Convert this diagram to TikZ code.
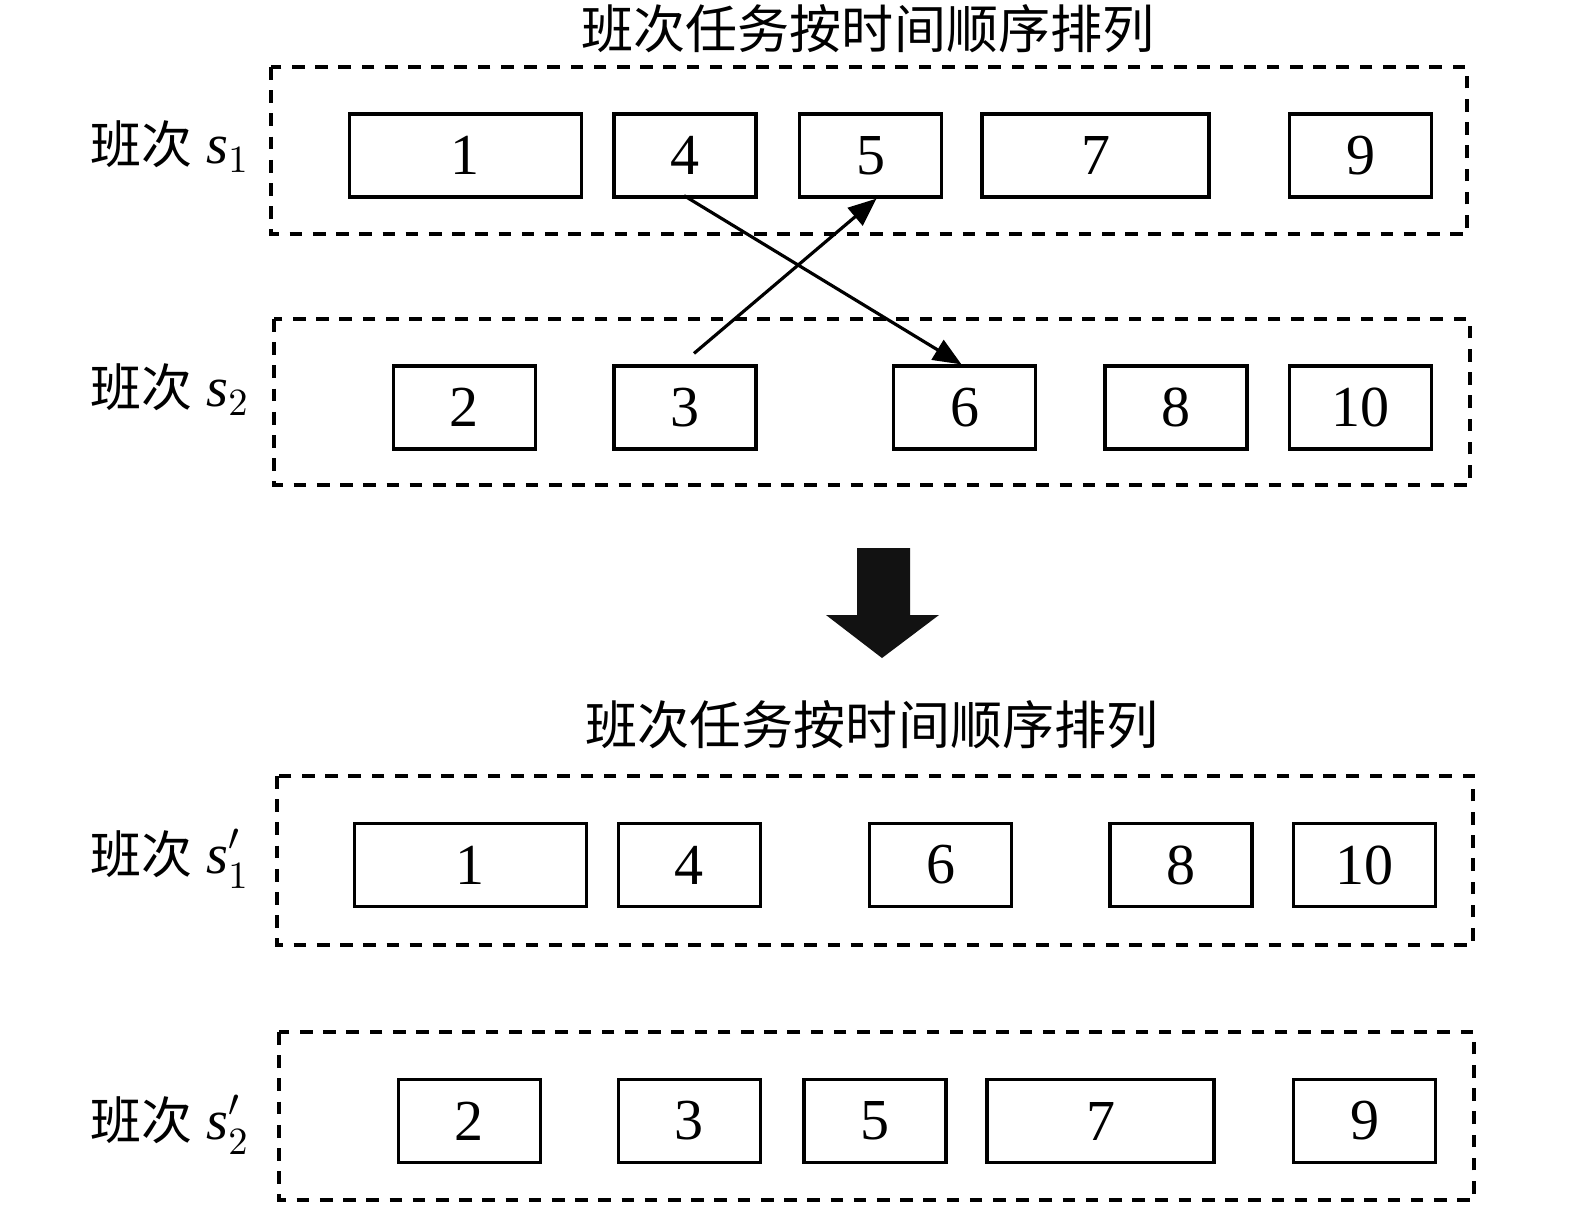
\documentclass[tikz,border=0pt]{standalone}
\usepackage{fontspec}
\setmainfont{Liberation Serif}
\newfontfamily\cjk{Noto Sans CJK SC}
\usetikzlibrary{arrows.meta}
\tikzset{
  task/.style={draw, line width=0.9pt, minimum height=0.83cm, minimum width=1.42cm, inner sep=0pt, font=\fontsize{16.5}{20}\selectfont},
  longtask/.style={task, minimum width=2.32cm},
  group/.style={draw, line width=0.9pt, dash pattern=on 3.6pt off 3pt},
  rowlabel/.style={anchor=base east, inner sep=0pt, font=\fontsize{16}{19}\selectfont},
  heading/.style={inner sep=0pt, font=\cjk\fontsize{14.8}{18}\selectfont},
  conn/.style={-{Triangle[length=8pt,width=6.5pt]}, line width=0.9pt}
}
\newcommand{\banci}{{\cjk\fontsize{14.5}{17}\selectfont 班次}\ }
\begin{document}
\begin{tikzpicture}[x=0.01cm, y=-0.01cm]
  \useasboundingbox (0,0) rectangle (1575,1205);

  % before the swap
  \node (t1) [heading] at (868,29) {班次任务按时间顺序排列};
  \draw [group] (271,67) rectangle (1467,234);
  \draw [group] (274,319) rectangle (1470,485);
  \node (l1) [rowlabel] at (250,163) {\banci\textit{s}$_1$};
  \node (l2) [rowlabel] at (250,406) {\banci\textit{s}$_2$};

  \node (a1) [longtask] at (465.5,155.5) {1};
  \node (a4) [task] at (685,155.5) {4};
  \node (a5) [task] at (870.5,155.5) {5};
  \node (a7) [longtask, minimum width=2.27cm] at (1095.5,155.5) {7};
  \node (a9) [task] at (1360.5,155.5) {9};

  \node (b2) [task] at (464.5,407.5) {2};
  \node (b3) [task] at (685,407.5) {3};
  \node (b6) [task] at (964.5,407.5) {6};
  \node (b8) [task] at (1176,407.5) {8};
  \node (b10) [task] at (1360.5,407.5) {10};

  \draw [conn] ([shift={(-1,-3)}]a4.south) -- ([xshift=-0.03cm]b6.north);
  \draw [conn] ([shift={(9,-11)}]b3.north) -- ([xshift=0.06cm]a5.south);

  % big arrow
  \fill [black!93] (857,548) -- (910,548) -- (910,615) -- (939,615) -- (882,658)
    -- (826,615) -- (857,615) -- cycle;

  % after the swap
  \node (t2) [heading] at (872,725) {班次任务按时间顺序排列};
  \draw [group] (277,776) rectangle (1473,945);
  \draw [group] (279,1032) rectangle (1474,1200);
  \node (l3) [rowlabel] at (250,873) {\banci\textit{s}$'_1$};
  \node (l4) [rowlabel] at (250,1139) {\banci\textit{s}$'_2$};

  \node (c1) [longtask] at (470.5,865) {1};
  \node (c4) [task] at (689.5,865) {4};
  \node (c6) [task] at (940.5,865) {6};
  \node (c8) [task] at (1181,865) {8};
  \node (c10) [task] at (1364.5,865) {10};

  \node (d2) [task] at (469.5,1121) {2};
  \node (d3) [task] at (689.5,1121) {3};
  \node (d5) [task] at (875,1121) {5};
  \node (d7) [longtask, minimum width=2.27cm] at (1100.5,1121) {7};
  \node (d9) [task] at (1364.5,1121) {9};
\end{tikzpicture}
\end{document}
